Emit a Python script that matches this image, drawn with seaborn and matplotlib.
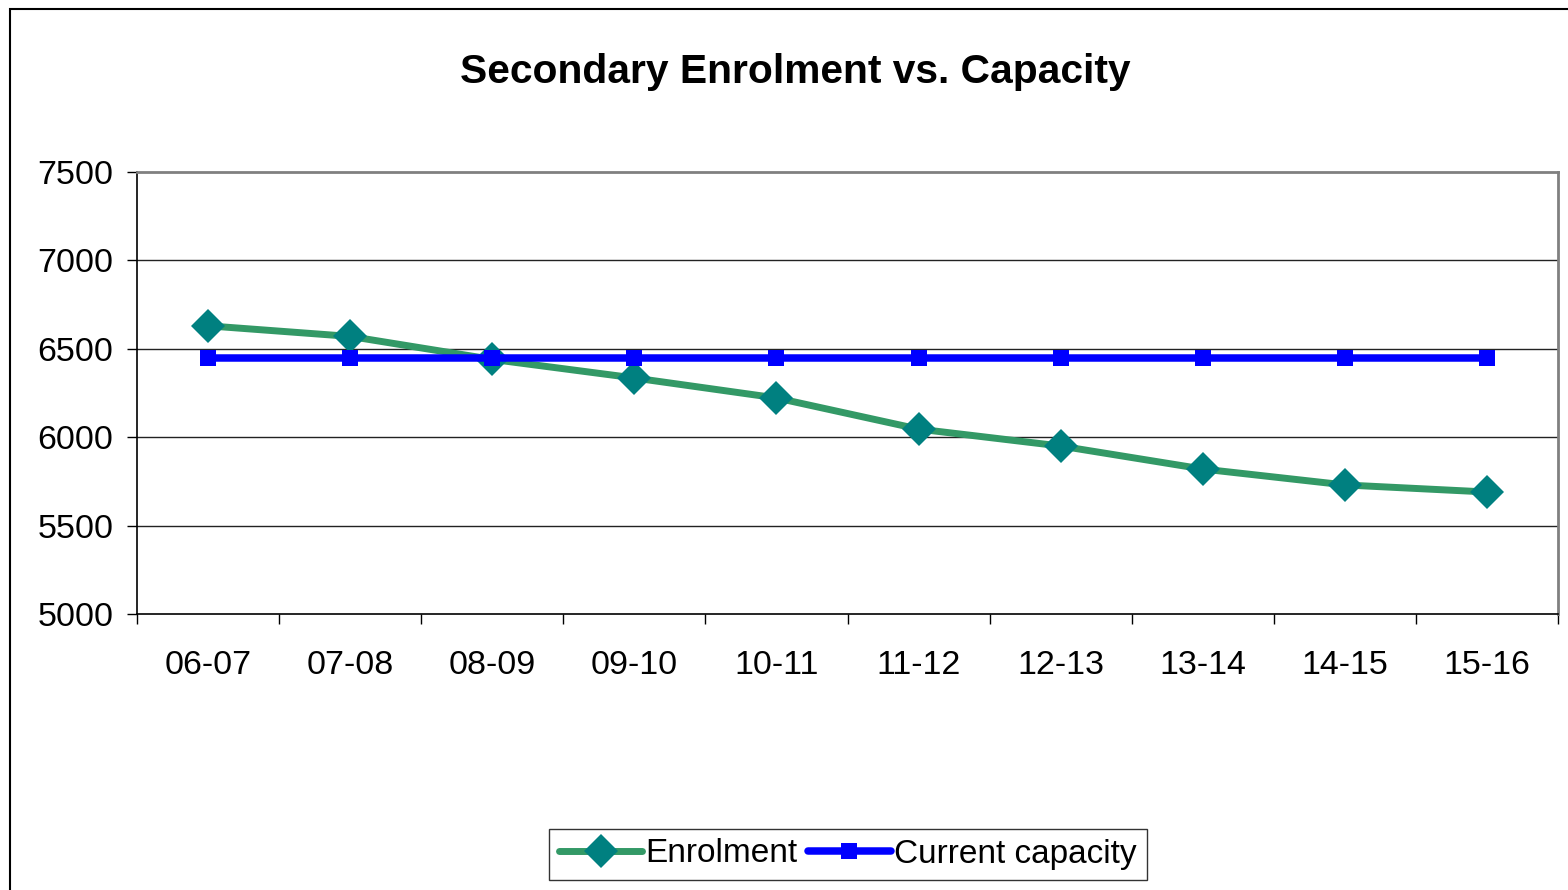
import matplotlib
matplotlib.use("Agg")
import matplotlib.pyplot as plt
import seaborn as sns
import pandas as pd
from matplotlib.patches import Rectangle

years = ["06-07", "07-08", "08-09", "09-10", "10-11", "11-12", "12-13", "13-14", "14-15", "15-16"]
enrolment = [6630, 6570, 6440, 6335, 6222, 6046, 5950, 5820, 5730, 5690]
capacity = [6450, 6450, 6450, 6450, 6450, 6450, 6450, 6450, 6450, 6450]
y_ticks = [5000, 5500, 6000, 6500, 7000, 7500]

sns.set_theme(style="white")
plt.rcParams['font.family'] = ['Liberation Sans', 'DejaVu Sans']
plt.rcParams['text.color'] = 'black'
plt.rcParams['xtick.color'] = 'black'
plt.rcParams['ytick.color'] = 'black'

fig = plt.figure(figsize=(15.68, 8.9), dpi=100)
ax = fig.add_axes([137/1568, 1-614/890, (1558-137)/1568, (614-172)/890])

df = pd.DataFrame({"Year": years, "Enrolment": enrolment, "Current capacity": capacity})

sns.lineplot(data=df, x="Year", y="Enrolment", ax=ax, color="#339966", linewidth=5,
             marker="D", markersize=17.5, markerfacecolor="#008080", markeredgewidth=0,
             label="Enrolment", sort=False)
sns.lineplot(data=df, x="Year", y="Current capacity", ax=ax, color="#0000FF", linewidth=5.4,
             marker="s", markersize=11, markerfacecolor="#0000FF", markeredgewidth=0,
             label="Current capacity", sort=False)

ax.set_xlim(-0.5, len(years) - 0.5)
ax.set_ylim(5000, 7500)
ax.set_yticks(y_ticks)
ax.set_yticklabels([str(v) for v in y_ticks], fontsize=24.5, color="black")
ax.set_xticks(range(len(years)))
ax.set_xticklabels(years, fontsize=24.5, color="black")
ax.set_xlabel("")
ax.set_ylabel("")

# grid lines
for v in y_ticks[1:-1]:
    ax.axhline(v, color="#222222", linewidth=1.0, zorder=0)

# x ticks at category boundaries
ax.tick_params(axis="x", length=0, pad=26)
ax.set_xticks([i - 0.5 for i in range(len(years) + 1)], minor=True)
ax.tick_params(axis="x", which="minor", length=7, width=1, color="black", bottom=True, direction="out")
ax.tick_params(axis="y", length=7, width=1, color="black", left=True, direction="out", pad=10)

for s in ["left", "bottom"]:
    ax.spines[s].set_color("black")
    ax.spines[s].set_linewidth(1.2)
for s in ["top", "right"]:
    ax.spines[s].set_color("#808080")
    ax.spines[s].set_linewidth(2)

leg = ax.legend(loc="center", bbox_to_anchor=(848/1568, 1-854/890), bbox_transform=fig.transFigure,
                ncol=2, fontsize=24, frameon=True, fancybox=False, handlelength=2.5,
                handletextpad=0.1, columnspacing=0.3, borderpad=0.3, borderaxespad=0)
leg.get_frame().set_edgecolor("black")
leg.get_frame().set_linewidth(1.0)
for t in leg.get_texts():
    t.set_color("black")

fig.text(795/1568, 1-72/890, "Secondary Enrolment vs. Capacity", ha="center", va="center",
         fontsize=29.3, fontweight="bold", color="black")

fig.patches.append(Rectangle((10/1568, -0.1), 1.1, 1-9/890+0.1, transform=fig.transFigure,
                             fill=False, edgecolor="black", linewidth=1.5))

fig.savefig("out.png", dpi=100)
